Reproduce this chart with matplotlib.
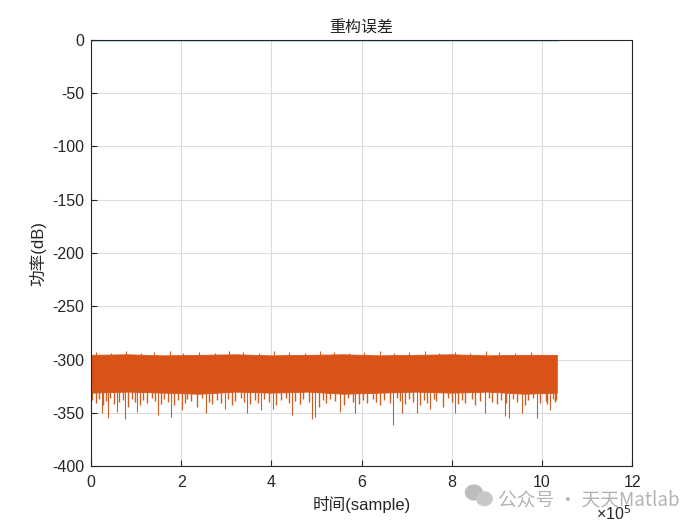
import matplotlib
matplotlib.use('Agg')
import matplotlib.pyplot as plt
from matplotlib.patches import Ellipse
import numpy as np

plt.rcParams['font.family'] = ['Liberation Sans', 'Noto Sans CJK SC', 'DejaVu Sans']
plt.rcParams['axes.unicode_minus'] = False

# envelope of the solid error band (x in 1e5 samples, y in dB)
env_x = [0, 0.8, 1.6, 2.4, 3.2, 4.0, 4.8, 5.6, 6.4, 7.2, 8.0, 8.8, 9.6, 10.33]
env_top = [-295.5, -295, -296, -295.5, -295, -296, -295.5, -295, -296, -295.5,
           -295, -296, -295.5, -295.5]
env_bot = [-331, -330, -331, -332, -330, -331, -330, -332, -331, -330,
           -331, -330, -332, -331]

# small hairs on top of the band
top_x = [0.12, 0.45, 0.78, 1.10, 1.40, 1.75, 2.05, 2.40, 2.75, 3.05,
         3.38, 3.72, 4.05, 4.38, 4.75, 5.08, 5.40, 5.72, 6.05, 6.40,
         6.72, 7.05, 7.40, 7.72, 8.08, 8.40, 8.75, 9.05, 9.40, 9.75]
top_y = [-293, -294, -292, -294, -293, -292, -294, -293, -294, -292,
         -293, -294, -292, -293, -294, -292, -293, -294, -293, -292,
         -294, -293, -292, -294, -293, -294, -292, -293, -294, -293]

# dense short hairs below the band
short_x = [0.03, 0.10, 0.18, 0.27, 0.33, 0.42, 0.51, 0.63, 0.70, 0.82,
           0.90, 0.97, 1.08, 1.15, 1.24, 1.35, 1.42, 1.55, 1.63, 1.70,
           1.83, 1.93, 2.08, 2.14, 2.22, 2.35, 2.46, 2.62, 2.68, 2.80,
           2.88, 3.04, 3.12, 3.20, 3.33, 3.40, 3.52, 3.64, 3.70, 3.84,
           3.95, 4.10, 4.22, 4.33, 4.40, 4.52, 4.63, 4.70, 4.83, 5.05,
           5.14, 5.22, 5.30, 5.42, 5.60, 5.70, 5.80, 5.95, 6.03, 6.12,
           6.25, 6.33, 6.42, 6.50, 6.62, 6.78, 6.85, 6.97, 7.05, 7.15,
           7.30, 7.38, 7.45, 7.60, 7.66, 7.80, 7.92, 8.00, 8.15, 8.22,
           8.30, 8.45, 8.52, 8.63, 8.82, 8.90, 9.00, 9.10, 9.20, 9.35,
           9.45, 9.63, 9.70, 9.80, 9.96, 10.08, 10.12, 10.25, 10.30, 10.32]
short_y = [-338, -341, -337, -343, -339, -336, -342, -340, -338, -344,
           -337, -340, -343, -338, -341, -336, -339, -342, -337, -340,
           -343, -338, -341, -337, -339, -344, -336, -340, -342, -338,
           -341, -337, -343, -339, -336, -340, -342, -338, -341, -337,
           -340, -343, -338, -336, -341, -339, -342, -337, -340, -344,
           -338, -341, -337, -339, -343, -336, -340, -342, -338, -341,
           -337, -340, -343, -338, -341, -336, -339, -342, -337, -340,
           -343, -338, -341, -337, -339, -344, -336, -340, -342, -338,
           -341, -337, -343, -339, -336, -340, -342, -338, -341, -337,
           -340, -343, -338, -336, -341, -339, -342, -337, -340, -338]

# deep downward spikes
spike_x = [0.24, 0.38, 0.58, 0.75, 1.02, 1.49, 1.77, 2.02, 2.55,
           2.97, 3.46, 3.77, 4.04, 4.46, 4.90, 4.97, 5.52, 5.86,
           6.70, 6.90, 7.23, 7.52, 8.07, 8.74, 9.18, 9.27, 9.56,
           9.89, 10.18]
spike_y = [-350, -355, -349, -356, -349, -352, -354, -347, -350,
           -346, -350, -347, -346, -352, -356, -354, -349, -350,
           -361, -350, -350, -346, -350, -350, -353, -355, -350,
           -355, -347]

# reference signal line at 0 dB
sig_x = [0, 10.33]
sig_y = [0, 0]

orange = '#D95319'
hair = '#CF5E24'
blue = '#0072BD'
dark = '#262626'
S = 1e5

fig = plt.figure(figsize=(7, 5.25), dpi=100)
ax = fig.add_axes([0.130, 0.112, 0.773, 0.812])

ax.plot(np.array(sig_x) * S, sig_y, color=blue, lw=1.0)
ex = np.array(env_x) * S
ax.fill_between(ex, env_bot, env_top, color=orange, lw=0.6, edgecolor=orange)
tx = np.array(top_x) * S
ax.vlines(tx, np.interp(tx, ex, env_top) - 1, top_y, color=hair, lw=0.8)
sx = np.array(short_x) * S
ax.vlines(sx, np.interp(sx, ex, env_bot) + 2, short_y, color=hair, lw=1.0)
px = np.array(spike_x) * S
ax.vlines(px, np.interp(px, ex, env_bot) + 2, spike_y, color=hair, lw=0.8)

ax.set_xlim(0, 12e5)
ax.set_ylim(-400, 0)
ax.set_xticks([0, 2e5, 4e5, 6e5, 8e5, 10e5, 12e5])
ax.set_xticklabels(['0', '2', '4', '6', '8', '10', '12'])
ax.set_yticks(range(-400, 1, 50))
ax.grid(True, color='#dcdcdc', lw=0.8)
ax.set_axisbelow(True)
ax.tick_params(direction='in', length=4, colors=dark, labelsize=11.5, width=0.8,
               top=False, right=False)
ax.tick_params(axis='x', pad=6)
ax.tick_params(axis='y', pad=5)
for s in ax.spines.values():
    s.set_color(dark)
    s.set_linewidth(0.8)

ax.set_title('重构误差', fontsize=11.5, color='#222222', pad=6)
ax.set_xlabel('时间(sample)', fontsize=12, color=dark, labelpad=5)
ax.set_ylabel('功率(dB)', fontsize=12, color=dark, labelpad=4)

fig.text(0.852, 0.010, '×10$^5$', fontsize=11.5, color=dark)

# watermark
fig.text(0.711, 0.038, '公众号 · 天天Matlab', fontsize=13.5, color='#b4b4b4',
         family=['Noto Sans CJK SC', 'DejaVu Sans'])
fig.patches.append(Ellipse((0.677, 0.062), 0.024, 0.028, transform=fig.transFigure,
                           color='#bdbdbd', zorder=5))
fig.patches.append(Ellipse((0.692, 0.050), 0.022, 0.026, transform=fig.transFigure,
                           color='#c8c8c8', zorder=5))

fig.savefig('out.png', dpi=100)
